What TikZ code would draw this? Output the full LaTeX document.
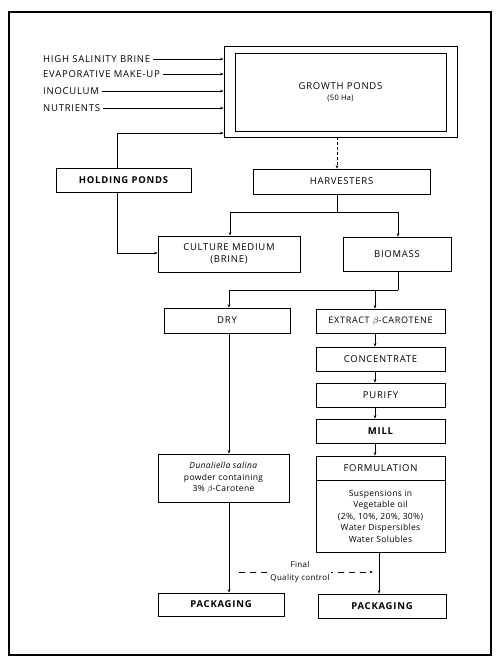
\documentclass[tikz,border=0pt]{standalone}
\usepackage{fontspec}
\setmainfont{Open Sans}
\newfontfamily\capsfont{Open Sans}[LetterSpace=8]
\newfontfamily\smfont{Open Sans}[LetterSpace=4]
\usetikzlibrary{arrows.meta}
\begin{document}
\begin{tikzpicture}[x=1pt,y=-1pt,
  box/.style={draw, line width=0.7pt, inner sep=1pt, align=center, font=\capsfont\fontsize{9.5}{12}\selectfont},
  bbox/.style={box, font=\capsfont\fontsize{9.5}{11}\selectfont\bfseries},
  lbl/.style={inner sep=0pt, font=\capsfont\fontsize{9.5}{11}\selectfont},
  small/.style={font=\smfont\fontsize{8.5}{11.5}\selectfont},
  arr/.style={-{Stealth[length=3.5pt,width=2.6pt]}, line width=0.6pt},
  ln/.style={line width=0.6pt}]
\useasboundingbox (0,0) rectangle (500,660);
\draw[line width=1.5pt] (9,12) rectangle (491,655);
% growth ponds
\node[box, minimum width=233pt, minimum height=91pt] (gpo) at (340.5,91.5) {};
\node[box, minimum width=211pt, minimum height=78pt] (gpi) at (340.5,92) {GROWTH PONDS\\[-1pt]{\smfont\fontsize{7.5}{9}\selectfont (50 Ha)}};
% inputs
\node[lbl, anchor=west] (in1) at (43,59) {HIGH SALINITY BRINE};
\node[lbl, anchor=west] (in2) at (43,74) {EVAPORATIVE MAKE-UP};
\node[lbl, anchor=west] (in3) at (43,91) {INOCULUM};
\node[lbl, anchor=west] (in4) at (43,108) {NUTRIENTS};
\draw[arr] ([xshift=3pt]in1.east) -- (in1.east -| gpo.west);
\draw[arr] ([xshift=3pt]in2.east) -- (in2.east -| gpo.west);
\draw[arr] ([xshift=3pt]in3.east) -- (in3.east -| gpo.west);
\draw[arr] ([xshift=3pt]in4.east) -- (in4.east -| gpo.west);
% boxes
\node[bbox, minimum width=135pt, minimum height=24pt] (hp) at (123.5,180) {HOLDING PONDS};
\node[box, minimum width=177pt, minimum height=25pt] (hv) at (341.5,181.5) {HARVESTERS};
\node[box, minimum width=142pt, minimum height=36pt] (cm) at (229,254) {CULTURE MEDIUM\\(BRINE)};
\node[box, minimum width=108pt, minimum height=34pt] (bm) at (397,254) {BIOMASS};
\node[box, minimum width=126pt, minimum height=25pt] (dry) at (227,320.5) {DRY};
\node[box, font=\capsfont\fontsize{9}{11}\selectfont, minimum width=129pt, minimum height=24pt] (ex) at (380.5,321) {EXTRACT $\beta$-CAROTENE};
\node[box, minimum width=129pt, minimum height=24pt] (co) at (380.5,359) {CONCENTRATE};
\node[box, minimum width=129pt, minimum height=24pt] (pu) at (380.5,395) {PURIFY};
\node[bbox, minimum width=129pt, minimum height=24pt] (mi) at (380.5,431) {MILL};
\node[box, minimum width=129pt, minimum height=24pt] (fo) at (380.5,468) {FORMULATION};
\node[box, small, minimum width=129pt, minimum height=72pt] (su) at (380.5,516) {Suspensions in\\Vegetable oil\\(2\%, 10\%, 20\%, 30\%)\\Water Dispersibles\\Water Solubles};
\node[box, small, minimum width=131pt, minimum height=48pt] (dun) at (223.5,478) {\textit{Dunaliella salina}\\powder containing\\3\% $\beta$-Carotene};
\node[bbox, minimum width=126pt, minimum height=23pt] (pk1) at (221,604.5) {PACKAGING};
\node[bbox, minimum width=128pt, minimum height=24pt] (pk2) at (382,606) {PACKAGING};
% holding ponds connectors
\coordinate (hpTop) at (117,133);
\coordinate (hpBot) at (117,253);
\draw[arr] (hp.north -| hpTop) -- (hpTop) -- (hpTop -| gpo.west);
\draw[arr] (hp.south -| hpBot) -- (hpBot) -- (hpBot -| cm.west);
% growth ponds to harvesters
\coordinate (colH) at (337,0);
\draw[arr, densely dashed] (gpo.south -| colH) -- (hv.north -| colH);
% harvesters split
\coordinate (sp1) at (337,212);
\coordinate (sp1L) at (230,212);
\coordinate (sp1R) at (398,212);
\draw[ln] (hv.south -| sp1) -- (sp1);
\draw[arr] (sp1) -- (sp1L) -- (sp1L |- cm.north);
\draw[arr] (sp1) -- (sp1R) -- (sp1R |- bm.north);
% biomass split
\coordinate (sp2) at (398,290);
\coordinate (sp2L) at (229,290);
\coordinate (sp2R) at (375,290);
\draw[ln] (bm.south -| sp2) -- (sp2);
\draw[arr] (sp2) -- (sp2L) -- (sp2L |- dry.north);
\draw[arr] (sp2) -- (sp2R) -- (sp2R |- ex.north);
% chain
\draw[arr] (ex.south -| sp2R) -- (co.north -| sp2R);
\draw[arr] (co.south -| sp2R) -- (pu.north -| sp2R);
\draw[arr] (pu.south -| sp2R) -- (mi.north -| sp2R);
\draw[arr] (mi.south -| sp2R) -- (fo.north -| sp2R);
\draw[arr] (dry.south -| sp2L) -- (dun.north -| sp2L);
\draw[arr] (dun.south -| sp2L) -- (pk1.north -| sp2L);
\coordinate (colF) at (379,0);
\draw[arr] (su.south -| colF) -- (pk2.north -| colF);
% quality control
\coordinate (qcL) at (239,572);
\coordinate (qcR) at (373,572);
\draw[arr, dash pattern=on 6pt off 5pt] (qcL) -- (qcR);
\node[fill=white, inner sep=1pt, align=center, font=\smfont\fontsize{8}{12.5}\selectfont] (qc) at (300,572) {Final\\Quality control};
\end{tikzpicture}
\end{document}
